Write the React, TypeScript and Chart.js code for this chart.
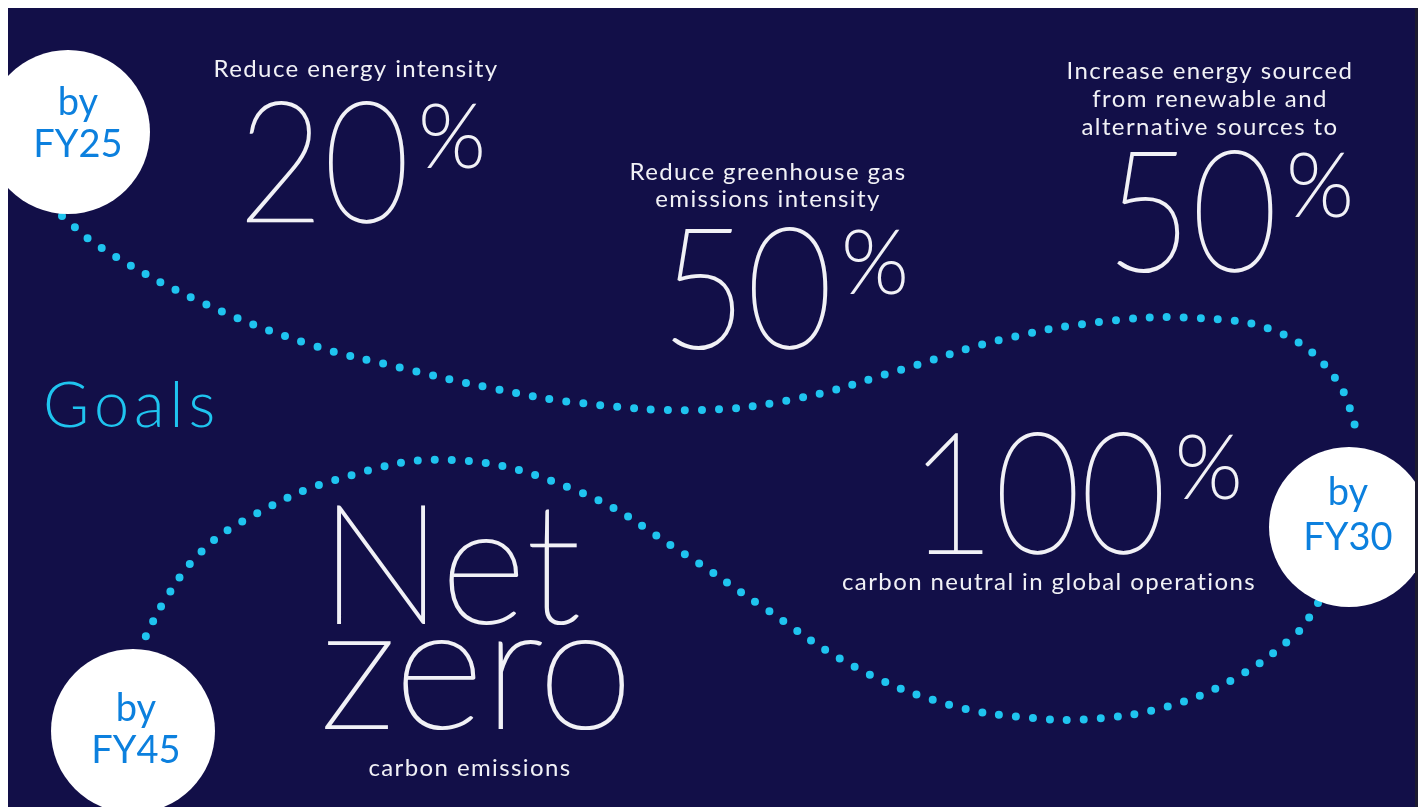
import { useEffect, useRef } from "react"
import { Chart, registerables } from "chart.js"
import type { Plugin } from "chart.js"

Chart.register(...registerables)

// Textos das metas
const titleText = "Goals"
const goalLabels = [
  ["Reduce energy intensity"],
  ["Reduce greenhouse gas", "emissions intensity"],
  ["Increase energy sourced", "from renewable and", "alternative sources to"],
]
const goalValues = ["20", "50", "50"]
const neutralValue = "100"
const neutralLabel = "carbon neutral in global operations"
const netZeroWords = ["Net", "zero"]
const netZeroLabel = "carbon emissions"

// Prazos (círculos brancos)
const deadlines = ["FY25", "FY30", "FY45"]
const deadlineX = [68, 1349, 133]
const deadlineY = [132, 527, 731]

// Trilha pontilhada FY25 -> FY30
const trailOneX = [62, 100, 203, 312, 402, 491, 580, 700, 800, 900, 1000, 1100, 1195, 1280, 1335, 1360]
const trailOneY = [216, 247, 303, 345, 368, 388, 403, 410, 398, 370, 340, 322, 318, 333, 378, 440]

// Trilha pontilhada FY30 -> FY45
const trailTwoX = [1318, 1297, 1232, 1162, 1090, 1032, 950, 855, 760, 683, 580, 453, 335, 245, 200, 165, 140]
const trailTwoY = [603, 633, 680, 708, 719, 718, 705, 667, 605, 553, 492, 460, 480, 520, 553, 600, 648]

const NAVY = "#120f48"
const CYAN = "#1fc4ef"
const BLUE = "#0c80de"
const WHITE = "#f1f1f6"

// Posições dos textos (px da página)
const goalLayout = [
  { labelX: 356, labelY: 77, lineGap: 28, numX: 238, numY: 222 },
  { labelX: 768, labelY: 180, lineGap: 27, numX: 661, numY: 348 },
  { labelX: 1210, labelY: 79, lineGap: 28, numX: 1106, numY: 271 },
]
const deadlineText = [
  { x: 78, byY: 115, fyY: 157 },
  { x: 1348, byY: 505, fyY: 550 },
  { x: 136, byY: 721, fyY: 763 },
]

const NUM_SIZE = 168
const NUM_SQUEEZE = 0.88
const PCT_SIZE = 88

const textPlugin: Plugin<"scatter"> = {
  id: "goalText",
  afterDatasetsDraw(chart) {
    const { ctx, scales } = chart
    const px = (v: number) => scales.x.getPixelForValue(v)
    const py = (v: number) => scales.y.getPixelForValue(v)

    const thin = (text: string, x: number, y: number, size: number, sx = 1) => {
      ctx.save()
      ctx.translate(x, y)
      ctx.scale(sx, 1)
      ctx.font = `200 ${size}px Lato`
      ctx.textAlign = "left"
      ctx.fillText(text, 0, 0)
      ctx.strokeText(text, 0, 0)
      const w = ctx.measureText(text).width * sx
      ctx.restore()
      return w
    }

    const bigNumber = (text: string, x: number, y: number) => {
      const w = thin(text, px(x), py(y), NUM_SIZE, NUM_SQUEEZE)
      const top = py(y) - NUM_SIZE * 0.717 + 2
      thin("%", px(x) + w + 9, top + PCT_SIZE * 0.717, PCT_SIZE)
    }

    ctx.save()
    ctx.textBaseline = "alphabetic"
    ctx.fillStyle = WHITE
    ctx.strokeStyle = WHITE
    ctx.lineWidth = 2.2

    const label = (text: string, x: number, y: number) => {
      ctx.font = "400 24px Lato"
      ctx.textAlign = "center"
      ;(ctx as any).letterSpacing = "1.4px"
      ctx.fillText(text, px(x), py(y))
      ;(ctx as any).letterSpacing = "0px"
    }

    goalLabels.forEach((lines, i) => {
      const l = goalLayout[i]
      lines.forEach((line, j) => label(line, l.labelX, l.labelY + j * l.lineGap))
      bigNumber(goalValues[i], l.numX, l.numY)
    })

    bigNumber(neutralValue, 909, 553)
    label(neutralLabel, 1049, 590)

    thin(netZeroWords[0], px(319), py(623), 166)
    thin(netZeroWords[1], px(320), py(728), 174)
    label(netZeroLabel, 470, 776)

    ctx.fillStyle = CYAN
    ctx.textAlign = "left"
    ctx.font = "300 63px Lato"
    ;(ctx as any).letterSpacing = "5px"
    ctx.fillText(titleText, px(43), py(427))
    ;(ctx as any).letterSpacing = "0px"

    ctx.fillStyle = BLUE
    ctx.textAlign = "center"
    ctx.font = "400 38px Lato"
    deadlines.forEach((fy, i) => {
      const t = deadlineText[i]
      ctx.fillText("by", px(t.x), py(t.byY))
      ctx.fillText(fy, px(t.x), py(t.fyY))
    })
    ctx.restore()
  },
}

export default function App() {
  const chartRef = useRef<HTMLCanvasElement>(null)
  const chartInstance = useRef<Chart | null>(null)

  useEffect(() => {
    if (!chartRef.current) return
    document.documentElement.style.overflow = "hidden"

    if (chartInstance.current) {
      chartInstance.current.destroy()
    }

    const trail = (xs: number[], ys: number[]) => ({
      data: xs.map((x, i) => ({ x, y: ys[i] })),
      showLine: true,
      borderColor: CYAN,
      borderWidth: 8,
      borderDash: [0, 17],
      borderCapStyle: "round" as const,
      tension: 0.4,
      pointRadius: 0,
      order: 1,
      clip: false as const,
    })

    const ctx = chartRef.current.getContext("2d")
    if (ctx) {
      chartInstance.current = new Chart(ctx, {
        type: "scatter",
        data: {
          datasets: [
            trail(trailOneX, trailOneY),
            trail(trailTwoX, trailTwoY),
            {
              data: deadlineX.map((x, i) => ({ x, y: deadlineY[i] })),
              pointRadius: [82, 80, 82],
              pointBackgroundColor: "#ffffff",
              pointBorderWidth: 0,
              order: 0,
              clip: false,
            },
          ],
        },
        options: {
          animation: false,
          responsive: true,
          maintainAspectRatio: false,
          events: [],
          layout: { padding: 0, autoPadding: false },
          plugins: {
            legend: { display: false },
            tooltip: { enabled: false },
          },
          scales: {
            x: { type: "linear", display: false, min: 8, max: 1415 },
            y: { type: "linear", display: false, min: 8, max: 818, reverse: true },
          },
        },
        plugins: [textPlugin],
      })
    }

    return () => {
      if (chartInstance.current) {
        chartInstance.current.destroy()
        chartInstance.current = null
      }
    }
  }, [])

  return (
    <div
      style={{
        width: 1407,
        height: 810,
        background: NAVY,
        borderRight: "3px solid #1c1a30",
        position: "relative",
      }}
    >
      <canvas ref={chartRef} />
    </div>
  )
}
